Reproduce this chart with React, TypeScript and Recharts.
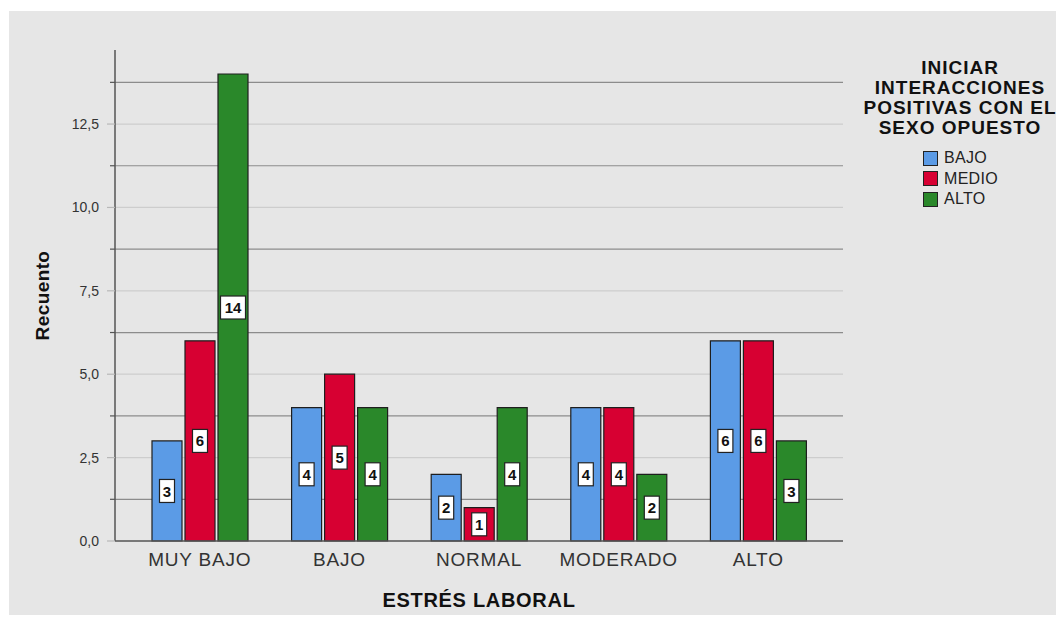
import { BarChart, Bar, XAxis, YAxis, CartesianGrid, LabelList, Label } from 'recharts';

// categories of ESTRÉS LABORAL
const categories = ['MUY BAJO', 'BAJO', 'NORMAL', 'MODERADO', 'ALTO'];

// counts per level of INICIAR INTERACCIONES POSITIVAS CON EL SEXO OPUESTO
const bajoValues = [3, 4, 2, 4, 6];
const medioValues = [6, 5, 1, 4, 6];
const altoValues = [14, 4, 4, 2, 3];

const series = [
    { key: 'BAJO', values: bajoValues, color: '#5b9be6' },
    { key: 'MEDIO', values: medioValues, color: '#d70032' },
    { key: 'ALTO', values: altoValues, color: '#2a882a' },
];

const legendTitle = ['INICIAR', 'INTERACCIONES', 'POSITIVAS CON EL', 'SEXO OPUESTO'];

// labelled ticks and the darker in-between lines
const yTicks = [0, 1.25, 2.5, 3.75, 5, 6.25, 7.5, 8.75, 10, 11.25, 12.5, 13.75];
const lightLines = [2.5, 5, 7.5, 10, 12.5];
const darkLines = [1.25, 3.75, 6.25, 8.75, 11.25, 13.75];
const yMax = 14.72;

const FONT = '"Liberation Sans", Arial, sans-serif';

const chartData = categories.map((name, i) => {
    const row: { [key: string]: string | number } = { name };
    for (const s of series) row[s.key] = s.values[i];
    return row;
});

const TICK_SIZE = 8;
const TICK_MARGIN = 8;

function YTick(props: any) {
    const { x, y, payload } = props;
    const v = payload.value as number;
    const labelled = Math.abs(v / 2.5 - Math.round(v / 2.5)) < 1e-6;
    const axisX = x + TICK_MARGIN + TICK_SIZE;
    return (
        <g>
            <line
                x1={labelled ? axisX - TICK_SIZE : axisX - 5}
                x2={axisX}
                y1={y}
                y2={y}
                stroke={labelled ? '#b8b8b8' : '#555'}
                strokeWidth={1.2}
            />
            {labelled && (
                <text x={x} y={y} dy="0.35em" textAnchor="end" fontSize={14} fill="#333" fontFamily={FONT}>
                    {v.toFixed(1).replace('.', ',')}
                </text>
            )}
        </g>
    );
}

function ValueBox(props: any) {
    const { x, y, width, height, value } = props;
    const cx = x + width / 2;
    const cy = y + height / 2;
    const w = String(value).length > 1 ? 25 : 15;
    const h = 23;
    return (
        <g>
            <rect x={cx - w / 2} y={cy - h / 2} width={w} height={h} fill="#fff" stroke="#222" strokeWidth={1.2} />
            <text x={cx} y={cy} dy="0.37em" textAnchor="middle" fontSize={15} fontWeight="bold" fill="#111" fontFamily={FONT}>
                {value}
            </text>
        </g>
    );
}

// grid lines at given values, mapped through the y axis scale
const gridFrom = (values: number[]) => (args: any) => {
    const scale = args?.yAxis?.scale;
    const off = args?.offset;
    return values.map((v) =>
        typeof scale === 'function'
            ? scale(v)
            : typeof scale?.map === 'function'
              ? scale.map(v)
              : off.top + off.height * (1 - v / yMax)
    );
};

export default function App() {
    return (
        <div
            style={{
                position: 'absolute',
                left: 0,
                top: 0,
                width: 1056,
                height: 619,
                background: '#fff',
                overflow: 'hidden',
                fontFamily: FONT,
            }}
        >
            <div style={{ position: 'absolute', left: 9, top: 11, width: 1047, height: 604, background: '#e6e6e6' }} />
            <div style={{ position: 'absolute', left: 0, top: 0 }}>
                <BarChart
                    width={1056}
                    height={619}
                    data={chartData}
                    margin={{ top: 50, right: 213, bottom: 8, left: 0 }}
                    barCategoryGap={22}
                    barGap={3}
                >
                    <CartesianGrid
                        vertical={false}
                        stroke="#cdcdcd"
                        strokeWidth={1.2}
                        horizontalCoordinatesGenerator={gridFrom(lightLines)}
                    />
                    <CartesianGrid
                        vertical={false}
                        stroke="#8c8c8c"
                        strokeWidth={1.2}
                        horizontalCoordinatesGenerator={gridFrom(darkLines)}
                    />
                    <XAxis
                        dataKey="name"
                        height={70}
                        padding={{ left: 15, right: 15 }}
                        tickLine={false}
                        tickSize={6}
                        tickMargin={6}
                        axisLine={{ stroke: '#555', strokeWidth: 1.5 }}
                        tick={{ fontSize: 19, fill: '#333', fontFamily: FONT, letterSpacing: 0.8 }}
                    >
                        <Label
                            value="ESTRÉS LABORAL"
                            position="insideBottom"
                            offset={4}
                            style={{ fontSize: 20, fontWeight: 'bold', fill: '#111', fontFamily: FONT, letterSpacing: 0.7 }}
                        />
                    </XAxis>
                    <YAxis
                        width={115}
                        domain={[0, yMax]}
                        ticks={yTicks}
                        interval={0}
                        tickLine={false}
                        tickSize={TICK_SIZE}
                        tickMargin={TICK_MARGIN}
                        axisLine={{ stroke: '#555', strokeWidth: 1.5 }}
                        tick={<YTick />}
                    >
                        <Label
                            value="Recuento"
                            angle={-90}
                            position="center"
                            dx={-15}
                            style={{ fontSize: 19, fontWeight: 'bold', fill: '#111', fontFamily: FONT, textAnchor: 'middle', letterSpacing: 0.4 }}
                        />
                    </YAxis>
                    {series.map((s) => (
                        <Bar
                            key={s.key}
                            dataKey={s.key}
                            fill={s.color}
                            stroke="#1e1e1e"
                            strokeWidth={1.2}
                            isAnimationActive={false}
                        >
                            <LabelList dataKey={s.key} content={<ValueBox />} />
                        </Bar>
                    ))}
                </BarChart>
            </div>
            <div
                style={{
                    position: 'absolute',
                    left: 860,
                    top: 58,
                    width: 200,
                    textAlign: 'center',
                    fontSize: 19,
                    fontWeight: 'bold',
                    letterSpacing: 1,
                    lineHeight: '20px',
                    color: '#111',
                    whiteSpace: 'nowrap',
                }}
            >
                {legendTitle.map((t) => (
                    <div key={t}>{t}</div>
                ))}
            </div>
            <div style={{ position: 'absolute', left: 923, top: 148 }}>
                {series.map((s) => (
                    <div key={s.key} style={{ display: 'flex', alignItems: 'center', height: 20.5 }}>
                        <div
                            style={{
                                width: 15,
                                height: 15,
                                background: s.color,
                                border: '1px solid #222',
                                boxSizing: 'border-box',
                                marginRight: 6,
                            }}
                        />
                        <span style={{ fontSize: 16, color: '#222', letterSpacing: 0.3 }}>{s.key}</span>
                    </div>
                ))}
            </div>
        </div>
    );
}
